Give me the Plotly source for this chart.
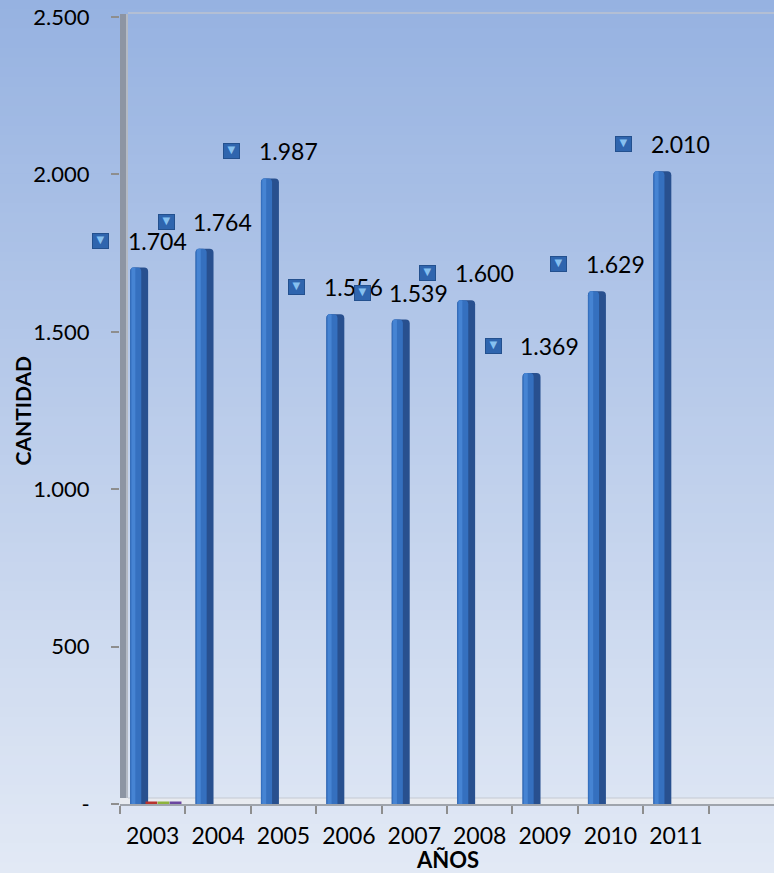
import plotly.graph_objects as go

years = ["2003", "2004", "2005", "2006", "2007", "2008", "2009", "2010", "2011"]
cantidad = [1704, 1764, 1987, 1556, 1539, 1600, 1369, 1629, 2010]
# three other series, all zero (only visible as flat tops on the floor at 2003)
extra_names = ["Serie 2", "Serie 3", "Serie 4"]
extra_values = [0, 0, 0]
extra_colors = ["#b8332e", "#8db33c", "#6a46a0"]

y_tickvals = [0, 500, 1000, 1500, 2000, 2500]
y_ticktext = ["-", "500", "1.000", "1.500", "2.000", "2.500"]

W, H = 774, 873
ML, MR, MT, MB = 120, 0, 17, 69
PW, PH = W - ML - MR, H - MT - MB

FONT = "Lato"

def fmt(v):
    return f"{v:,}".replace(",", ".")

fig = go.Figure()

# cylinder-like bars: dark body, lighter left part, highlight strip
fig.add_trace(go.Bar(x=years, y=cantidad, width=0.275, offset=-0.345,
                     marker=dict(color="#28508f", line=dict(width=0), cornerradius=4),
                     hoverinfo="skip"))
fig.add_trace(go.Bar(x=years, y=cantidad, width=0.17, offset=-0.345,
                     marker=dict(color="#3570bf", line=dict(width=0), cornerradius=4),
                     hoverinfo="skip"))
fig.add_trace(go.Bar(x=years, y=cantidad, width=0.06, offset=-0.325,
                     marker=dict(color="#4684d3", line=dict(width=0), cornerradius=3),
                     hoverinfo="skip"))

offs = [-0.11, 0.075, 0.26]
for name, v, c, o in zip(extra_names, extra_values, extra_colors, offs):
    fig.add_trace(go.Bar(x=[years[0]], y=[v], width=0.18, offset=o, name=name,
                         marker=dict(color=c, line=dict(color=c, width=5)),
                         cliponaxis=False, hoverinfo="skip"))

# background gradient
top = (0x96, 0xb2, 0xe1)
bot = (0xe2, 0xe9, 0xf5)
N = 90
y_top = 1 + MT / PH
y_bot = -MB / PH
shapes = []
for i in range(N):
    t = i / (N - 1)
    col = tuple(round(a + (b - a) * t) for a, b in zip(top, bot))
    y1 = y_top - (y_top - y_bot) * i / N + 0.001
    y0 = y_top - (y_top - y_bot) * (i + 1) / N - 0.002
    shapes.append(dict(type="rect", xref="paper", yref="paper",
                       x0=-ML / PW - 0.01, x1=1.01, y0=y0, y1=y1,
                       fillcolor="rgb(%d,%d,%d)" % col, line=dict(width=0), layer="below"))
# side wall
shapes.append(dict(type="rect", xref="paper", yref="paper", xsizemode="pixel", xanchor=0,
                   x0=0, x1=8, y0=0, y1=1 + 3 / PH,
                   fillcolor="#8d95a3", line=dict(width=0), layer="below"))
shapes.append(dict(type="rect", xref="paper", yref="paper", xsizemode="pixel", xanchor=0,
                   x0=6, x1=8, y0=0, y1=1 + 3 / PH,
                   fillcolor="#b4bac4", line=dict(width=0), layer="below"))
# back wall top edge
shapes.append(dict(type="line", xref="paper", yref="paper", x0=8 / PW, x1=1.01,
                   y0=1 + 4 / PH, y1=1 + 4 / PH, line=dict(color="#bcc3cf", width=1.5),
                   layer="below"))
# floor top face
shapes.append(dict(type="rect", xref="paper", yref="paper", x0=0, x1=1.01,
                   y0=0, y1=6 / PH, fillcolor="#e8ebf0", line=dict(width=0), layer="below"))
shapes.append(dict(type="line", xref="paper", yref="paper", x0=8 / PW, x1=1.01,
                   y0=6 / PH, y1=6 / PH, line=dict(color="#c4c9d2", width=1), layer="below"))

annotations = []
for i, v in enumerate(cantidad):
    annotations.append(dict(x=i, y=v, xref="x", yref="y", text=fmt(v), showarrow=False,
                            xanchor="left", yanchor="middle", xshift=-27, yshift=27,
                            font=dict(family=FONT, size=23, color="#000000")))
    annotations.append(dict(x=i, y=v, xref="x", yref="y", text="▼", showarrow=False,
                            xanchor="center", yanchor="middle", xshift=-52, yshift=27,
                            width=15, height=14, bgcolor="#2f65ae", bordercolor="#23508e",
                            borderwidth=1, borderpad=0, valign="top",
                            font=dict(family="DejaVu Sans", size=10, color="#86c0f0")))
annotations.append(dict(x=0.5, y=-55.5 / PH, xref="paper", yref="paper", text="<b>AÑOS</b>",
                        showarrow=False, xanchor="center", yanchor="middle",
                        font=dict(family=FONT, size=22, color="#000000")))
annotations.append(dict(x=-98 / PW, y=0.5, xref="paper", yref="paper", text="<b>CANTIDAD</b>",
                        showarrow=False, xanchor="center", yanchor="middle", textangle=-90,
                        font=dict(family=FONT, size=21, color="#000000")))

fig.update_layout(
    width=W, height=H,
    margin=dict(l=ML, r=MR, t=MT, b=MB, autoexpand=False),
    paper_bgcolor="rgba(0,0,0,0)", plot_bgcolor="rgba(0,0,0,0)",
    barmode="overlay", showlegend=False,
    shapes=shapes, annotations=annotations,
    font=dict(family=FONT, size=22, color="#000000"),
    xaxis=dict(type="category", categoryorder="array", categoryarray=years,
               range=[-0.5, 9.5], tickson="boundaries", ticks="outside", ticklen=8,
               tickcolor="#8e8e8e", tickwidth=2, showline=True, linecolor="#9fa4ac",
               linewidth=2, showgrid=False, zeroline=False,
               tickfont=dict(family=FONT, size=23), ticklabelstandoff=10),
    yaxis=dict(range=[0, 2500], tickvals=y_tickvals, ticktext=y_ticktext,
               ticks="outside", ticklen=8, tickcolor="#8e8e8e", tickwidth=2,
               showline=False, showgrid=False, zeroline=False,
               ticklabeloverflow="allow",
               tickfont=dict(family=FONT, size=22), ticklabelstandoff=17),
)

fig.write_html("out.html", config={"displayModeBar": False},
               post_script="document.body.style.margin='0';")
